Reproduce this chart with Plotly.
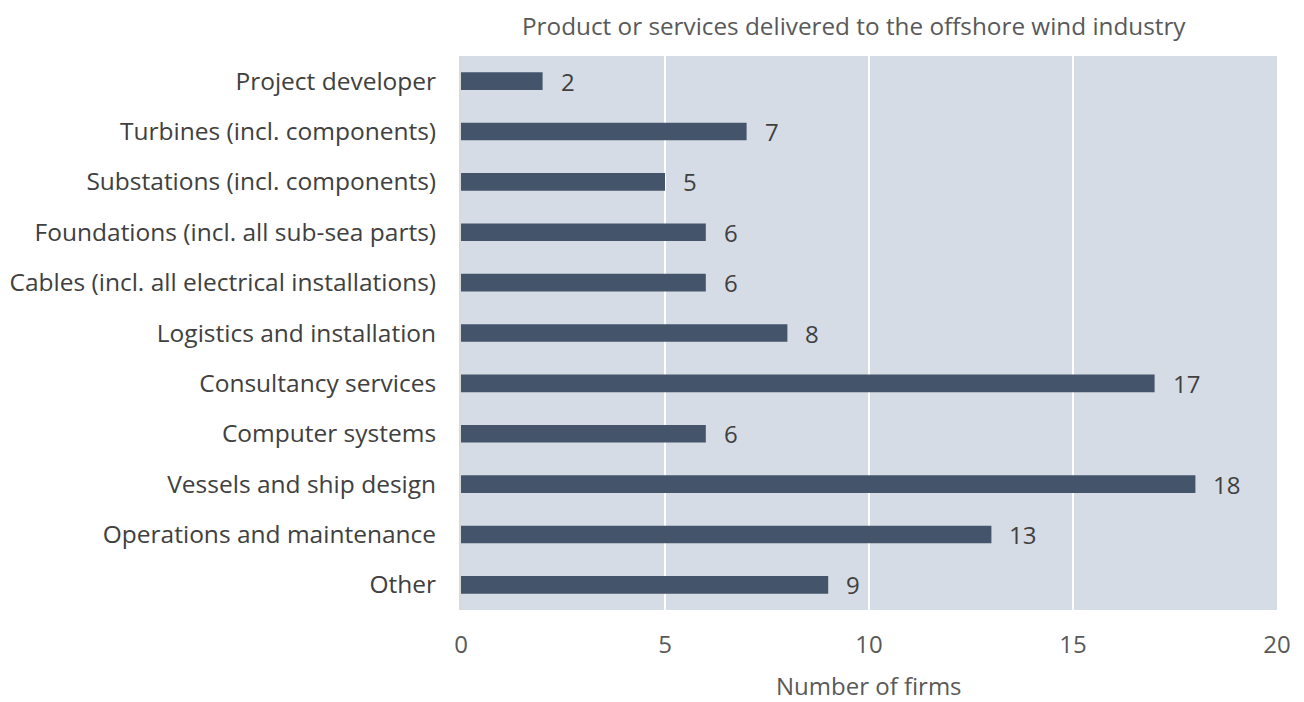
import plotly.graph_objects as go

categories = [
    "Project developer",
    "Turbines (incl. components)",
    "Substations (incl. components)",
    "Foundations (incl. all sub-sea parts)",
    "Cables (incl. all electrical installations)",
    "Logistics and installation",
    "Consultancy services",
    "Computer systems",
    "Vessels and ship design",
    "Operations and maintenance",
    "Other",
]
values = [2, 7, 5, 6, 6, 8, 17, 6, 18, 13, 9]
x_ticks = [0, 5, 10, 15, 20]

title_text = "Product or services delivered to the offshore wind industry"
x_title = "Number of firms"

FONT = "Open Sans, sans-serif"
TXT = "#595959"

# the page body adds an 8px offset at top/left
W, H = 1296, 694
L, R, T, B = 453, 27, 48, 92

fig = go.Figure()
fig.add_trace(go.Bar(
    y=categories, x=values, orientation="h",
    marker=dict(color="#44546A", line=dict(width=0)),
    hoverinfo="x+y",
))

for c, v in zip(categories, values):
    fig.add_annotation(x=v, y=c, text=str(v), showarrow=False,
                       xanchor="left", xshift=16,
                       font=dict(family=FONT, size=24, color="#404040"))

# chart title
fig.add_annotation(x=(846 - L) / (W - L - R), y=1, xref="paper", yref="paper",
                   yshift=T - 17, xanchor="center", yanchor="middle",
                   text=title_text, showarrow=False,
                   font=dict(family=FONT, size=24.3, color=TXT))
# x-axis title
fig.add_annotation(x=0.5, y=0, xref="paper", yref="paper",
                   yshift=-75, xanchor="center", yanchor="middle",
                   text=x_title, showarrow=False,
                   font=dict(family=FONT, size=24, color=TXT))

fig.update_layout(
    width=W, height=H,
    margin=dict(l=L, r=R, t=T, b=B, autoexpand=False),
    paper_bgcolor="white",
    plot_bgcolor="#D6DCE5",
    bargap=0.65,
    showlegend=False,
    font=dict(family=FONT, size=24, color=TXT),
)
fig.update_xaxes(
    range=[0, 20], tickvals=x_ticks, ticktext=[str(t) for t in x_ticks],
    showgrid=True, gridcolor="white", gridwidth=1.5,
    zeroline=False, showline=False, automargin=False,
    ticks="outside", ticklen=13, tickcolor="rgba(0,0,0,0)",
    tickfont=dict(family=FONT, size=24, color=TXT),
)
fig.update_yaxes(
    autorange="reversed", automargin=False,
    showgrid=False, zeroline=False,
    showline=True, linecolor="#D9D9D9", linewidth=2,
    ticks="outside", ticklen=18, tickcolor="rgba(0,0,0,0)",
    tickfont=dict(family=FONT, size=24.5, color="#404040"),
)

fig.write_html("out.html")
